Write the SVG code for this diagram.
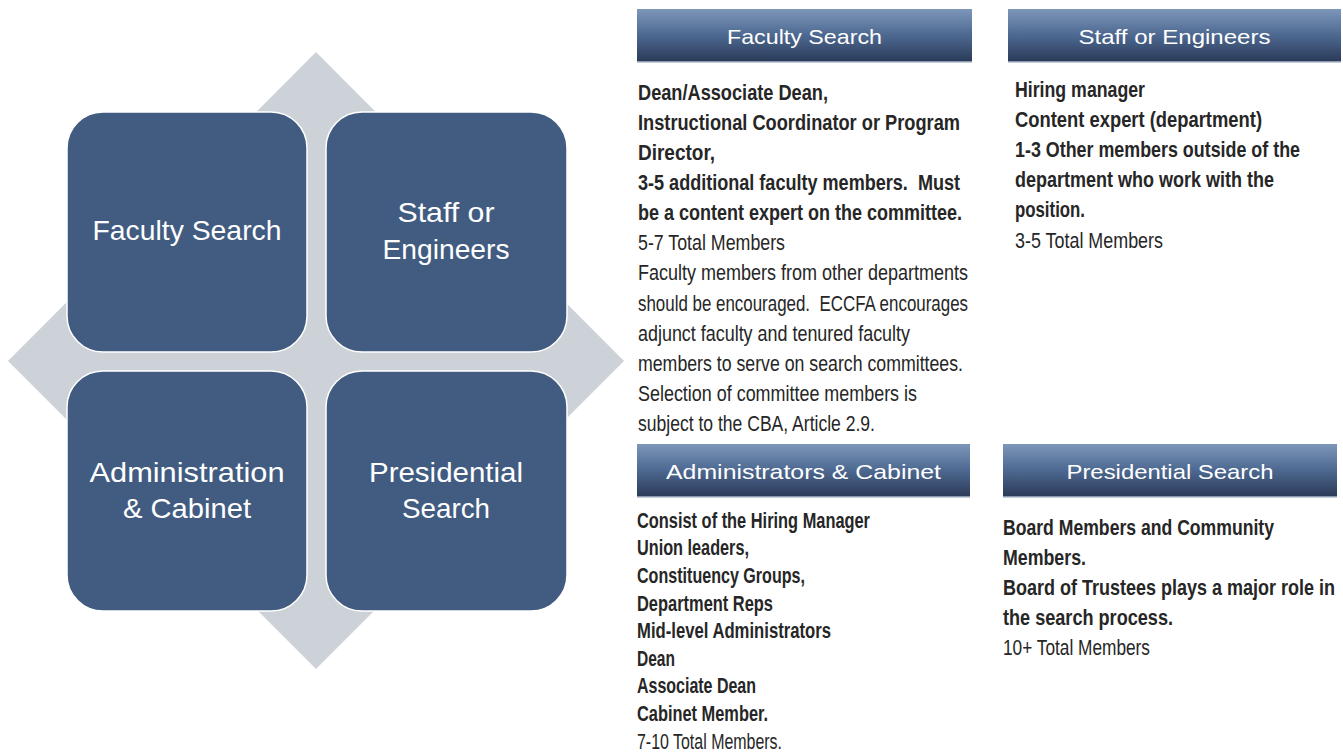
<svg xmlns="http://www.w3.org/2000/svg" width="1343" height="755" viewBox="0 0 1343 755">
<defs>
<linearGradient id="hdr" x1="0" y1="0" x2="0" y2="1">
<stop offset="0" stop-color="#7d97ba"/>
<stop offset="0.5" stop-color="#4d6890"/>
<stop offset="1" stop-color="#2a3a57"/>
</linearGradient>
<style>
.box{fill:#415c80;stroke:#ffffff;stroke-width:1.5}
.lbl{font-family:"Liberation Sans",Arial,sans-serif;font-size:28px;fill:#ffffff;text-anchor:middle}
.bar{fill:url(#hdr)}
.bar-edge{fill:#8a9ab0}
.htxt{font-family:"Liberation Sans",Arial,sans-serif;font-size:21px;fill:#ffffff;text-anchor:middle}
.b{font-family:"Liberation Sans Narrow","Liberation Sans","DejaVu Sans Condensed",sans-serif;font-size:21.5px;font-weight:700;fill:#262626}
.r{font-family:"Liberation Sans Narrow","Liberation Sans","DejaVu Sans Condensed",sans-serif;font-size:21.5px;font-weight:400;fill:#262626}
.pre{white-space:pre}
</style>
</defs>
<rect width="1343" height="755" fill="#ffffff"/>
<g id="backdrop">
<polygon points="316,52 624,361 316,669 8,361" fill="#cdd1d8"/>
</g>
<g id="connectors"></g>
<g id="node-faculty">
<rect class="box" x="67" y="112" width="240" height="240" rx="36"/>
<text class="lbl" x="187" y="240" textLength="189" lengthAdjust="spacingAndGlyphs">Faculty Search</text>
</g>
<g id="node-staff">
<rect class="box" x="326" y="112" width="241" height="240" rx="36"/>
<text class="lbl" x="446" y="222" textLength="97" lengthAdjust="spacingAndGlyphs">Staff or</text>
<text class="lbl" x="446" y="259" textLength="127" lengthAdjust="spacingAndGlyphs">Engineers</text>
</g>
<g id="node-admin">
<rect class="box" x="67" y="371" width="240" height="240" rx="36"/>
<text class="lbl" x="187" y="482" textLength="195" lengthAdjust="spacingAndGlyphs">Administration</text>
<text class="lbl" x="187" y="518" textLength="128" lengthAdjust="spacingAndGlyphs">&amp; Cabinet</text>
</g>
<g id="node-presidential">
<rect class="box" x="326" y="371" width="241" height="240" rx="36"/>
<text class="lbl" x="446" y="482" textLength="154" lengthAdjust="spacingAndGlyphs">Presidential</text>
<text class="lbl" x="446" y="518" textLength="88" lengthAdjust="spacingAndGlyphs">Search</text>
</g>
<g id="panel-faculty">
<rect class="bar" x="637" y="9" width="335" height="53"/>
<rect class="bar-edge" x="637" y="61" width="335" height="1.5"/>
<text class="htxt" x="804.5" y="44" textLength="155" lengthAdjust="spacingAndGlyphs">Faculty Search</text>
<text class="b" x="638" y="100" textLength="190" lengthAdjust="spacingAndGlyphs">Dean/Associate Dean,</text>
<text class="b" x="638" y="130" textLength="322" lengthAdjust="spacingAndGlyphs">Instructional Coordinator or Program</text>
<text class="b" x="638" y="160" textLength="77" lengthAdjust="spacingAndGlyphs">Director,</text>
<text class="b pre" x="638" y="190" textLength="322" lengthAdjust="spacingAndGlyphs">3-5 additional faculty members.  Must</text>
<text class="b" x="638" y="220" textLength="324" lengthAdjust="spacingAndGlyphs">be a content expert on the committee.</text>
<text class="r" x="638" y="250" textLength="147" lengthAdjust="spacingAndGlyphs">5-7 Total Members</text>
<text class="r" x="638" y="280" textLength="330" lengthAdjust="spacingAndGlyphs">Faculty members from other departments</text>
<text class="r pre" x="638" y="311" textLength="330" lengthAdjust="spacingAndGlyphs">should be encouraged.  ECCFA encourages</text>
<text class="r" x="638" y="341" textLength="272" lengthAdjust="spacingAndGlyphs">adjunct faculty and tenured faculty</text>
<text class="r" x="638" y="371" textLength="325" lengthAdjust="spacingAndGlyphs">members to serve on search committees.</text>
<text class="r" x="638" y="401" textLength="279" lengthAdjust="spacingAndGlyphs">Selection of committee members is</text>
<text class="r" x="638" y="431" textLength="237" lengthAdjust="spacingAndGlyphs">subject to the CBA, Article 2.9.</text>
</g>
<g id="panel-staff">
<rect class="bar" x="1008" y="9" width="333" height="53"/>
<rect class="bar-edge" x="1008" y="61" width="333" height="1.5"/>
<text class="htxt" x="1174.5" y="44" textLength="192" lengthAdjust="spacingAndGlyphs">Staff or Engineers</text>
<text class="b" x="1015" y="97" textLength="130" lengthAdjust="spacingAndGlyphs">Hiring manager</text>
<text class="b" x="1015" y="127" textLength="247" lengthAdjust="spacingAndGlyphs">Content expert (department)</text>
<text class="b" x="1015" y="157" textLength="285" lengthAdjust="spacingAndGlyphs">1-3 Other members outside of the</text>
<text class="b" x="1015" y="187" textLength="259" lengthAdjust="spacingAndGlyphs">department who work with the</text>
<text class="b" x="1015" y="217" textLength="70" lengthAdjust="spacingAndGlyphs">position.</text>
<text class="r" x="1015" y="248" textLength="148" lengthAdjust="spacingAndGlyphs">3-5 Total Members</text>
</g>
<g id="panel-admin">
<rect class="bar" x="637" y="444" width="333" height="53"/>
<rect class="bar-edge" x="637" y="496" width="333" height="1.5"/>
<text class="htxt" x="803.5" y="479" textLength="275" lengthAdjust="spacingAndGlyphs">Administrators &amp; Cabinet</text>
<text class="b" x="637" y="528" textLength="233" lengthAdjust="spacingAndGlyphs">Consist of the Hiring Manager</text>
<text class="b" x="637" y="555" textLength="112" lengthAdjust="spacingAndGlyphs">Union leaders,</text>
<text class="b" x="637" y="583" textLength="168" lengthAdjust="spacingAndGlyphs">Constituency Groups,</text>
<text class="b" x="637" y="611" textLength="136" lengthAdjust="spacingAndGlyphs">Department Reps</text>
<text class="b" x="637" y="638" textLength="194" lengthAdjust="spacingAndGlyphs">Mid-level Administrators</text>
<text class="b" x="637" y="666" textLength="38" lengthAdjust="spacingAndGlyphs">Dean</text>
<text class="b" x="637" y="693" textLength="119" lengthAdjust="spacingAndGlyphs">Associate Dean</text>
<text class="b" x="637" y="721" textLength="131" lengthAdjust="spacingAndGlyphs">Cabinet Member.</text>
<text class="r" x="637" y="749" textLength="145" lengthAdjust="spacingAndGlyphs">7-10 Total Members.</text>
</g>
<g id="panel-presidential">
<rect class="bar" x="1003" y="444" width="334" height="53"/>
<rect class="bar-edge" x="1003" y="496" width="334" height="1.5"/>
<text class="htxt" x="1170" y="479" textLength="207" lengthAdjust="spacingAndGlyphs">Presidential Search</text>
<text class="b" x="1003" y="535" textLength="271" lengthAdjust="spacingAndGlyphs">Board Members and Community</text>
<text class="b" x="1003" y="565" textLength="83" lengthAdjust="spacingAndGlyphs">Members.</text>
<text class="b" x="1003" y="595" textLength="332" lengthAdjust="spacingAndGlyphs">Board of Trustees plays a major role in</text>
<text class="b" x="1003" y="625" textLength="170" lengthAdjust="spacingAndGlyphs">the search process.</text>
<text class="r" x="1003" y="655" textLength="147" lengthAdjust="spacingAndGlyphs">10+ Total Members</text>
</g>
</svg>
